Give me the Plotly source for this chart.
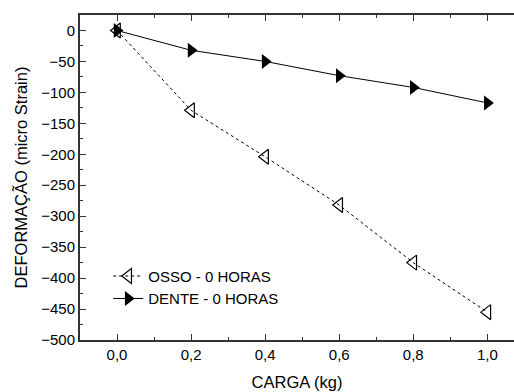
import plotly.graph_objects as go

carga = [0.0, 0.2, 0.4, 0.6, 0.8, 1.0]
osso = [0, -129, -204, -282, -375, -455]
dente = [0, -32, -50, -73, -92, -117]
xtick_vals = [0.0, 0.2, 0.4, 0.6, 0.8, 1.0]
xtick_text = ["0,0", "0,2", "0,4", "0,6", "0,8", "1,0"]
ytick_vals = [0, -50, -100, -150, -200, -250, -300, -350, -400, -450, -500]

FONT = "Liberation Sans, Arial, sans-serif"

fig = go.Figure()
fig.add_trace(go.Scatter(
    x=carga, y=osso, mode="lines+markers", name="OSSO - 0 HORAS",
    line=dict(color="black", width=1, dash="dot"),
    marker=dict(symbol="triangle-left-open", size=13, color="black", line=dict(width=1.2, color="black")),
))
fig.add_trace(go.Scatter(
    x=carga, y=dente, mode="lines+markers", name="DENTE - 0 HORAS",
    line=dict(color="black", width=1),
    marker=dict(symbol="triangle-right", size=13, color="black"),
))

fig.update_layout(
    width=514, height=392,
    margin=dict(l=80, r=0, t=15, b=52),
    paper_bgcolor="white", plot_bgcolor="white",
    font=dict(family=FONT, size=15, color="black"),
    showlegend=True,
    legend=dict(x=0.065, y=0.247, xanchor="left", yanchor="top",
                bgcolor="rgba(0,0,0,0)", font=dict(size=15, family=FONT),
                tracegroupgap=0, itemwidth=30),
)
fig.update_xaxes(
    range=[-0.1, 1.072], showgrid=False, zeroline=False,
    showline=True, linecolor="#333", linewidth=2, mirror="ticks",
    ticks="inside", ticklen=6, tickwidth=1, tickcolor="#333",
    tickvals=xtick_vals, ticktext=xtick_text, tickfont=dict(size=15),
    minor=dict(dtick=0.1, ticks="inside", ticklen=3, tickcolor="#333", showgrid=False),
    title=dict(text="CARGA (kg)", standoff=14, font=dict(size=16.5)),
)
fig.update_yaxes(
    range=[-500, 25], showgrid=False, zeroline=False,
    showline=True, linecolor="#333", linewidth=2,
    ticks="inside", ticklen=6, tickwidth=1, tickcolor="#333",
    tickvals=ytick_vals, tickfont=dict(size=15),
    minor=dict(dtick=25, ticks="inside", ticklen=3, tickcolor="#333", showgrid=False),
    title=dict(text="DEFORMAÇÃO (micro Strain)", standoff=9, font=dict(size=16.5)),
)

fig.write_html("out.html")
